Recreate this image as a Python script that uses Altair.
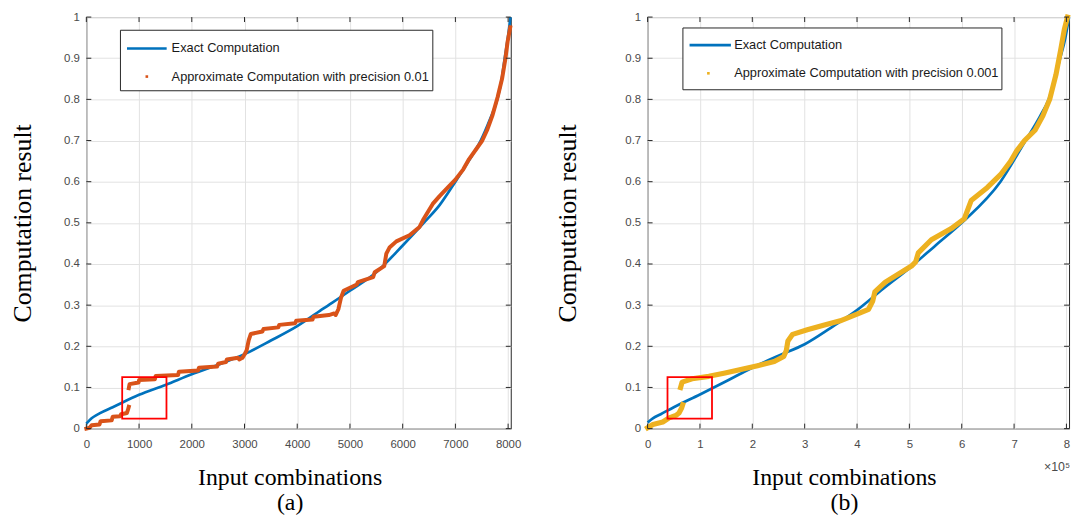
import altair as alt
import pandas as pd

# ---------------- Panel (a) data ----------------
a_exact_x = [0, 100, 250, 500, 1000, 1500, 2000, 2500, 3000, 3500, 4000, 4500, 5000,
             5500, 6000, 6400, 6700, 7000, 7250, 7480, 7650, 7795, 7880, 7935, 7995, 8045]
a_exact_y = [0.012, 0.025, 0.037, 0.052, 0.082, 0.106, 0.132, 0.155, 0.181, 0.214, 0.249,
             0.292, 0.335, 0.38, 0.445, 0.5, 0.543, 0.6, 0.65, 0.7, 0.75, 0.8, 0.85, 0.9, 0.95, 1.0]

a_appr1_x = [0, 60, 100, 250, 270, 480, 500, 640, 660, 770, 790, 805]
a_appr1_y = [0.0, 0.002, 0.008, 0.01, 0.018, 0.02, 0.029, 0.03, 0.035, 0.038, 0.046, 0.053]

a_appr2_x = [805, 820, 990, 1000, 1300, 1315, 1740, 1755, 2120, 2135, 2480, 2500, 2650, 2665,
             2880, 2900, 2960, 3000, 3040, 3080, 3120, 3340, 3360, 3640, 3660, 3960, 3980, 4290,
             4310, 4600, 4700, 4730, 4780, 4830, 4880, 5130, 5150, 5440, 5470, 5650, 5690, 5750,
             5880, 6130, 6320, 6400, 6570, 6700, 6885, 7000, 7150, 7260, 7400, 7510, 7600, 7700,
             7800, 7885, 7950, 7990, 8040]
a_appr2_y = [0.098, 0.108, 0.112, 0.118, 0.12, 0.128, 0.13, 0.138, 0.141, 0.148, 0.151, 0.158,
             0.162, 0.168, 0.172, 0.168, 0.172, 0.18, 0.19, 0.215, 0.23, 0.236, 0.242, 0.246,
             0.252, 0.256, 0.262, 0.265, 0.272, 0.276, 0.28, 0.276, 0.29, 0.318, 0.335, 0.35,
             0.356, 0.368, 0.38, 0.395, 0.425, 0.44, 0.455, 0.47, 0.49, 0.51, 0.546, 0.565,
             0.59, 0.605, 0.63, 0.655, 0.68, 0.7, 0.725, 0.76, 0.805, 0.85, 0.9, 0.94, 0.975]

a_box = [680, 1520, 0.024, 0.125]  # x1, x2, y1, y2

# ---------------- Panel (b) data ----------------
b_exact_x = [0, 10000, 25000, 50000, 100000, 150000, 200000, 250000, 300000, 350000, 400000,
             450000, 500000, 550000, 600000, 674000, 722000, 750000, 766000, 788000, 798000, 805000]
b_exact_y = [0.015, 0.025, 0.035, 0.052, 0.083, 0.115, 0.148, 0.177, 0.205, 0.245, 0.288,
             0.34, 0.39, 0.445, 0.5, 0.6, 0.7, 0.76, 0.8, 0.9, 0.95, 1.0]

b_appr1_x = [0, 10000, 29000, 41000, 54000, 60000, 65000, 67000]
b_appr1_y = [0.002, 0.01, 0.016, 0.026, 0.032, 0.038, 0.05, 0.058]

b_appr2_x = [63000, 66000, 85000, 117000, 148000, 180000, 210000, 242000, 260000, 265000,
             268000, 277000, 305000, 336000, 368000, 400000, 422000, 430000, 434000, 454000,
             504000, 512000, 517000, 542000, 580000, 605000, 618000, 649000, 674000, 693000,
             705000, 720000, 740000, 755000, 768000, 780000, 789000, 796000, 802000]
b_appr2_y = [0.10, 0.113, 0.121, 0.127, 0.135, 0.144, 0.153, 0.163, 0.175, 0.19, 0.213, 0.229,
             0.24, 0.251, 0.262, 0.278, 0.29, 0.31, 0.332, 0.356, 0.395, 0.405, 0.427, 0.459,
             0.486, 0.51, 0.554, 0.586, 0.617, 0.649, 0.675, 0.7, 0.725, 0.76, 0.8, 0.86, 0.92,
             0.97, 1.0]

b_box = [38000, 123000, 0.024, 0.125]

# ---------------- axes ----------------
a_xticks = [0, 1000, 2000, 3000, 4000, 5000, 6000, 7000, 8000]
b_xticks = [0, 100000, 200000, 300000, 400000, 500000, 600000, 700000, 800000]
y_ticks = [0, 0.1, 0.2, 0.3, 0.4, 0.5, 0.6, 0.7, 0.8, 0.9, 1.0]

legend_exact = "Exact Computation"
a_legend_appr = "Approximate Computation with precision 0.01"
b_legend_appr = "Approximate Computation with precision 0.001"
a_xtitle = ["Input combinations", "(a)"]
b_xtitle = ["Input combinations", "(b)"]
ytitle = "Computation result"
b_exponent = "×10⁵"

BLUE = "#0072BD"
ORANGE = "#D95319"
YELLOW = "#EDB120"
RED = "#FF0000"
DARK = "#262626"
LABEL = "#4a4a4a"
H = 415
XTFS = 24
YTFS = 26


def make_panel(W, ex, ey, s1x, s1y, s2x, s2y, box, xdom, xticks, xtitle, label_expr,
               acolor, awidth, appr_label, ytitle_x, xtitle_x, leg):
    xscale = alt.Scale(domain=xdom, nice=False, zero=False)
    yscale = alt.Scale(domain=[0, 1], nice=False, zero=False)
    xaxis = alt.Axis(values=xticks, labelExpr=label_expr, grid=True, gridColor="#e2e2e2",
                     domain=False, ticks=False, labelFlush=False, labelPadding=10,
                     labelFont="Liberation Sans", labelFontSize=11.5, labelColor=LABEL,
                     title=xtitle, titleFont="Liberation Serif", titleFontSize=XTFS,
                     titleFontWeight="normal", titleColor="black", titleX=xtitle_x,
                     titleY=37, titleBaseline="top", titleAlign="center",
                     titleLineHeight=26)
    yaxis = alt.Axis(values=y_ticks, format="~g", grid=True, gridColor="#e2e2e2",
                     domain=False, ticks=False, labelPadding=7,
                     labelFont="Liberation Sans", labelFontSize=11.5, labelColor=LABEL,
                     title=ytitle, titleFont="Liberation Serif", titleFontSize=YTFS,
                     titleFontWeight="normal", titleColor="black", titleX=ytitle_x)
    X = alt.X("x:Q", scale=xscale, axis=xaxis)
    Y = alt.Y("y:Q", scale=yscale, axis=yaxis)

    df_ex = pd.DataFrame({"x": ex, "y": ey})
    df_ap = pd.concat([
        pd.DataFrame({"x": s1x, "y": s1y, "seg": 1}),
        pd.DataFrame({"x": s2x, "y": s2y, "seg": 2}),
    ], ignore_index=True)
    df_box = pd.DataFrame({"x": [box[0]], "x2": [box[1]], "y": [box[2]], "y2": [box[3]]})
    df_xt = pd.DataFrame({"x": xticks})
    df_yt = pd.DataFrame({"y": y_ticks})

    exact = alt.Chart(df_ex).mark_line(color=BLUE, strokeWidth=2.7,
                                       interpolate="monotone").encode(x=X, y=Y)
    approx = alt.Chart(df_ap).mark_line(color=acolor, strokeWidth=awidth, strokeJoin="round",
                                        strokeCap="square").encode(x=X, y=Y, detail="seg:N")
    rect = alt.Chart(df_box).mark_rect(fillOpacity=0, stroke=RED, strokeWidth=1.8).encode(
        x=X, x2="x2", y=Y, y2="y2")

    tb = alt.Chart(df_xt).mark_rule(color=DARK).encode(
        x=X, y=alt.value(H), y2=alt.value(H - 5))
    tt = alt.Chart(df_xt).mark_rule(color=DARK).encode(
        x=X, y=alt.value(0), y2=alt.value(5))
    tl = alt.Chart(df_yt).mark_rule(color=DARK).encode(
        y=Y, x=alt.value(0), x2=alt.value(5))
    tr = alt.Chart(df_yt).mark_rule(color=DARK).encode(
        y=Y, x=alt.value(W), x2=alt.value(W - 5))

    # legend box
    lx1, lx2, ly1, ly2, sx1, sx2, sy1, sy2, tx, dx = leg
    one = pd.DataFrame({"a": [0]})
    lbox = alt.Chart(one).mark_rect(fill="white", stroke=DARK, strokeWidth=1).encode(
        x=alt.value(lx1), x2=alt.value(lx2), y=alt.value(ly1), y2=alt.value(ly2))
    lline = alt.Chart(one).mark_rule(color=BLUE, strokeWidth=2.7).encode(
        x=alt.value(sx1), x2=alt.value(sx2), y=alt.value(sy1))
    ldot = alt.Chart(one).mark_square(color=acolor, size=7, opacity=1).encode(
        x=alt.value(dx), y=alt.value(sy2))
    lt1 = alt.Chart(pd.DataFrame({"t": [legend_exact]})).mark_text(
        align="left", baseline="middle", font="Liberation Sans", fontSize=12.9,
        color="#1a1a1a").encode(x=alt.value(tx), y=alt.value(sy1), text="t:N")
    lt2 = alt.Chart(pd.DataFrame({"t": [appr_label]})).mark_text(
        align="left", baseline="middle", font="Liberation Sans", fontSize=12.9,
        color="#1a1a1a").encode(x=alt.value(tx), y=alt.value(sy2), text="t:N")

    layers = [exact, approx, rect, tb, tt, tl, tr, lbox, lline, ldot, lt1, lt2]
    return alt.layer(*layers).properties(width=W, height=H)


panel_a = make_panel(
    428, a_exact_x, a_exact_y, a_appr1_x, a_appr1_y, a_appr2_x, a_appr2_y, a_box,
    [0, 8050], a_xticks, a_xtitle, "format(datum.value, 'd')", ORANGE, 4.0,
    a_legend_appr, -51.7, 205,
    (34.4, 349.4, 13.3, 74.3, 41, 81, 31.7, 60, 86, 61),
)

panel_b = make_panel(
    425, b_exact_x, b_exact_y, b_appr1_x, b_appr1_y, b_appr2_x, b_appr2_y, b_box,
    [0, 805000], b_xticks, b_xtitle, "format(datum.value / 100000, 'd')", YELLOW, 5.2,
    b_legend_appr, -68, 198,
    (35.6, 357.3, 11, 73.3, 42.3, 84, 28.3, 56.7, 87.3, 61.3),
)

exp_df = pd.DataFrame({"t": [b_exponent]})
exp_text = alt.Chart(exp_df).mark_text(align="right", baseline="middle", font="Liberation Sans",
                                       fontSize=12.5, color=LABEL).encode(
    x=alt.value(426), y=alt.value(454), text="t:N")
panel_b = alt.layer(panel_b, exp_text)

chart = alt.hconcat(panel_a, panel_b, spacing=32).properties(
    padding=0,
    background="white",
).configure_view(stroke=DARK, strokeWidth=1)

chart.save("out.html", embed_options={"renderer": "svg", "actions": False})
